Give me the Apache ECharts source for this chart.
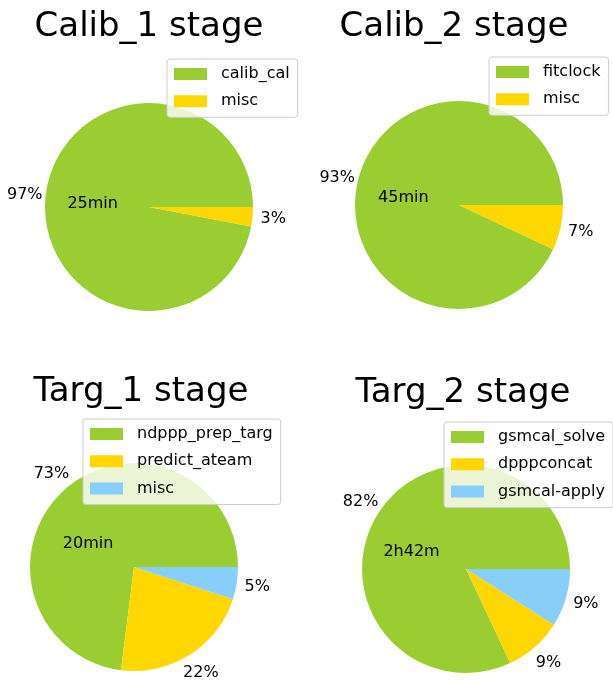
<!DOCTYPE html>
<html>
<head>
<meta charset="utf-8">
<script src="https://cdn.jsdelivr.net/npm/echarts@6/dist/echarts.min.js"></script>
<style>
html,body{margin:0;padding:0;background:#fff;}
#chart{width:613px;height:682px;}
</style>
</head>
<body>
<div id="chart"></div>
<script>
// ---- Data ----
const calib1Names = ['calib_cal', 'misc'];
const calib1Values = [97, 3];
const calib1Time = '25min';

const calib2Names = ['fitclock', 'misc'];
const calib2Values = [93, 7];
const calib2Time = '45min';

const targ1Names = ['ndppp_prep_targ', 'predict_ateam', 'misc'];
const targ1Values = [73, 22, 5];
const targ1Time = '20min';

const targ2Names = ['gsmcal_solve', 'dpppconcat', 'gsmcal-apply'];
const targ2Values = [82, 9, 9];
const targ2Time = '2h42m';

const titles = ['Calib_1 stage', 'Calib_2 stage', 'Targ_1 stage', 'Targ_2 stage'];
const palette3 = ['#9acd32', '#ffd700', '#87cefa'];

// ---- Layout ----
const FONT = 'DejaVu Sans';
const R = 104;
const panels = [
  {names: calib1Names, values: calib1Values, time: calib1Time, center: [149, 207], titleX: 149, titleY: 10,  legend: [167, 59]},
  {names: calib2Names, values: calib2Values, time: calib2Time, center: [459, 205], titleX: 454, titleY: 10,  legend: [489, 57]},
  {names: targ1Names,  values: targ1Values,  time: targ1Time,  center: [134, 567], titleX: 141, titleY: 375, legend: [83, 419]},
  {names: targ2Names,  values: targ2Values,  time: targ2Time,  center: [466, 569], titleX: 463, titleY: 376, legend: [444, 422]}
];

const transparent = 'rgba(0,0,0,0)';
const series = [];
const legends = [];
const titleComps = [];

panels.forEach((p, k) => {
  const colored = p.names.map((n, i) => ({name: n, value: p.values[i], itemStyle: {color: palette3[i]}}));
  // main pie
  series.push({
    type: 'pie', center: p.center, radius: [0, R],
    startAngle: 0, clockwise: false, avoidLabelOverlap: false,
    silent: true, label: {show: false}, labelLine: {show: false},
    itemStyle: {borderWidth: 0},
    emphasis: {disabled: true},
    data: colored
  });
  // percentage labels, centred at 1.2 R
  series.push({
    type: 'pie', center: p.center, radius: [R, R * 1.2 * 2 - R - 6],
    startAngle: 0, clockwise: false, avoidLabelOverlap: false,
    silent: true, labelLine: {show: false},
    itemStyle: {color: transparent, borderWidth: 0},
    emphasis: {disabled: true},
    label: {show: true, position: 'inside', formatter: '{c}%', color: '#000', fontFamily: FONT, fontSize: 16},
    data: p.names.map((n, i) => ({name: n, value: p.values[i]}))
  });
  // time label on the largest slice, right-aligned at 0.3 R
  series.push({
    type: 'pie', center: p.center, radius: [0, R * 0.3],
    startAngle: 0, clockwise: false, avoidLabelOverlap: false,
    silent: true,
    itemStyle: {color: transparent, borderWidth: 0},
    emphasis: {disabled: true},
    labelLine: {show: false, length: 0, length2: 0},
    label: {show: true, position: 'outside', distanceToLabelLine: 0, formatter: () => p.time, color: '#000', fontFamily: FONT, fontSize: 16},
    data: p.names.map((n, i) => ({name: n, value: p.values[i], label: {show: i === 0}}))
  });
  legends.push({
    orient: 'vertical', left: p.legend[0], top: p.legend[1],
    icon: 'rect', itemWidth: 33, itemHeight: 12, itemGap: 11.3,
    padding: [7, 8, 8, 7],
    backgroundColor: 'rgba(255,255,255,0.8)', borderColor: '#cccccc', borderWidth: 1, borderRadius: 3,
    selectedMode: false,
    textStyle: {color: '#000', fontFamily: FONT, fontSize: 16, lineHeight: 16, padding: [0, 0, 0, 9]},
    data: p.names.map((n, i) => ({name: n, itemStyle: {color: palette3[i], opacity: 1, borderWidth: 0}}))
  });
  titleComps.push({
    text: titles[k], left: p.titleX, top: p.titleY, textAlign: 'center', padding: 0,
    textStyle: {color: '#000', fontFamily: FONT, fontSize: 34, fontWeight: 'normal', lineHeight: 34}
  });
});

const chart = echarts.init(document.getElementById('chart'), null, {renderer: 'canvas'});
chart.setOption({
  animation: false,
  backgroundColor: '#fff',
  title: titleComps,
  legend: legends,
  series: series
});
</script>
</body>
</html>
